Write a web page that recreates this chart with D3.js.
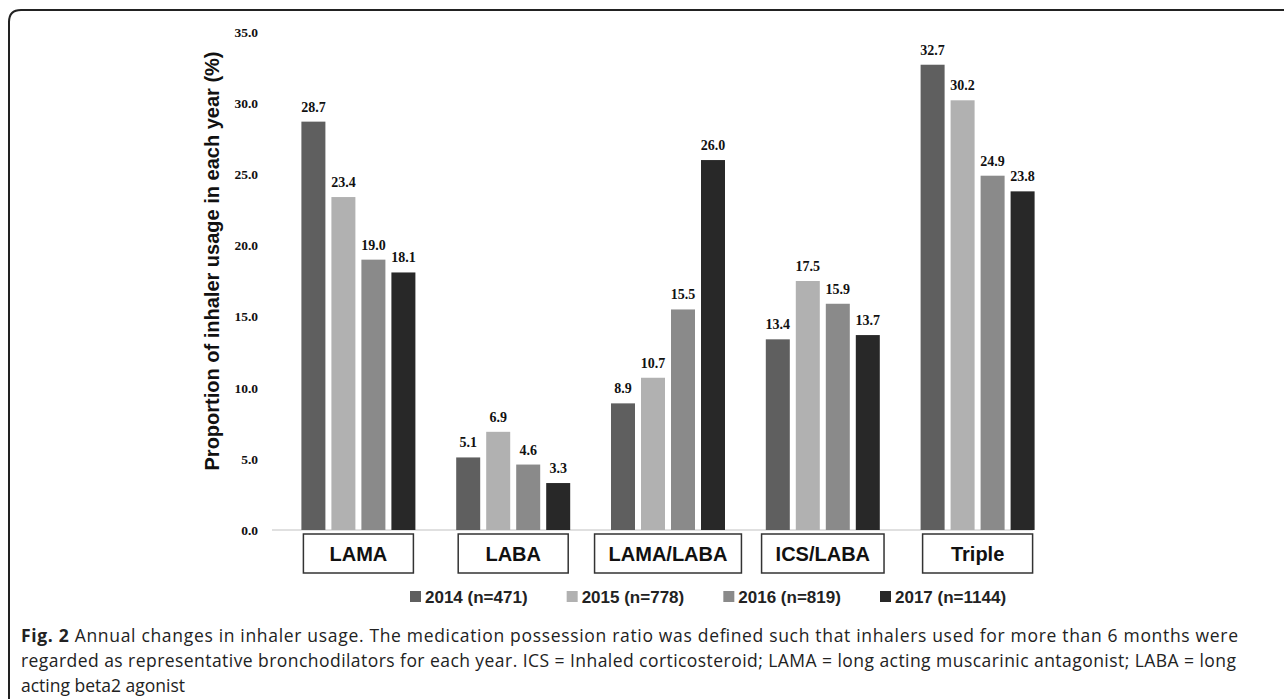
<!DOCTYPE html>
<html>
<head>
<meta charset="utf-8">
<script src="https://cdn.jsdelivr.net/npm/d3@7"></script>
<style>
  body { margin: 0; background: #fff; }
  svg { display: block; }
</style>
</head>
<body>
<div id="viz"></div>
<script>
// chart data
const categories = ["LAMA", "LABA", "LAMA/LABA", "ICS/LABA", "Triple"];
const years = ["2014", "2015", "2016", "2017"];
const legendLabels = ["2014 (n=471)", "2015 (n=778)", "2016 (n=819)", "2017 (n=1144)"];
const values2014 = [28.7, 5.1, 8.9, 13.4, 32.7];
const values2015 = [23.4, 6.9, 10.7, 17.5, 30.2];
const values2016 = [19.0, 4.6, 15.5, 15.9, 24.9];
const values2017 = [18.1, 3.3, 26.0, 13.7, 23.8];
const yTicks = [0, 5, 10, 15, 20, 25, 30, 35];
const captionLines = [
  ["Fig. 2", " Annual changes in inhaler usage. The medication possession ratio was defined such that inhalers used for more than 6 months were"],
  ["", "regarded as representative bronchodilators for each year. ICS = Inhaled corticosteroid; LAMA = long acting muscarinic antagonist; LABA = long"],
  ["", "acting beta2 agonist"]
];

const seriesValues = [values2014, values2015, values2016, values2017];
const colors = ["#5f5f5f", "#b1b1b1", "#8a8a8a", "#282828"];

const width = 1284, height = 699;

const svg = d3.select("#viz")
  .append("svg")
  .attr("width", width)
  .attr("height", height);

// frame: top and left edges with rounded corner
svg.append("path")
  .attr("d", "M9,699 L9,22 Q9,10 21,10 L1284,10")
  .attr("fill", "none")
  .attr("stroke", "#222")
  .attr("stroke-width", 2);

const x = d3.scaleBand().domain(categories).range([281, 1055]);
const xi = d3.scaleBand().domain(years).range([-57, 57]).paddingInner(0.2);
const y = d3.scaleLinear().domain([0, 35]).range([530, 32]);

// y axis labels
const yAxis = svg.append("g")
  .attr("transform", "translate(258,0)")
  .call(d3.axisLeft(y).tickValues(yTicks).tickFormat(d3.format(".1f")).tickSize(0).tickPadding(0));
yAxis.select(".domain").remove();
yAxis.selectAll("text")
  .attr("font-family", "Liberation Serif, Times New Roman, serif")
  .attr("font-weight", "bold")
  .attr("font-size", 13.5)
  .attr("fill", "#111");

svg.append("text")
  .attr("transform", "translate(219,261) rotate(-90)")
  .attr("text-anchor", "middle")
  .attr("font-family", "Liberation Sans, Arial, sans-serif")
  .attr("font-weight", "bold")
  .attr("font-size", 20)
  .attr("fill", "#111")
  .text("Proportion of inhaler usage in each year (%)");

// baseline
svg.append("line")
  .attr("x1", 272).attr("x2", 1033)
  .attr("y1", y(0)).attr("y2", y(0))
  .attr("stroke", "#d6d6d6")
  .attr("stroke-width", 1.5);

// bars
const groups = svg.selectAll("g.group")
  .data(categories)
  .enter().append("g")
  .attr("class", "group")
  .attr("transform", d => `translate(${x(d) + x.bandwidth() / 2},0)`);

years.forEach((yr, k) => {
  groups.append("rect")
    .attr("x", xi(yr))
    .attr("y", (d, i) => y(seriesValues[k][i]))
    .attr("width", xi.bandwidth())
    .attr("height", (d, i) => y(0) - y(seriesValues[k][i]))
    .attr("fill", colors[k]);

  groups.append("text")
    .attr("x", xi(yr) + xi.bandwidth() / 2)
    .attr("y", (d, i) => y(seriesValues[k][i]) - 10)
    .attr("text-anchor", "middle")
    .attr("font-family", "Liberation Serif, Times New Roman, serif")
    .attr("font-weight", "bold")
    .attr("font-size", 14)
    .attr("fill", "#111")
    .text((d, i) => seriesValues[k][i].toFixed(1));
});

// category label boxes
groups.each(function(d) {
  const g = d3.select(this);
  const t = g.append("text")
    .attr("x", 0)
    .attr("y", 561)
    .attr("text-anchor", "middle")
    .attr("font-family", "Liberation Sans, Arial, sans-serif")
    .attr("font-weight", "bold")
    .attr("font-size", 20)
    .attr("fill", "#111")
    .text(d);
  const w = Math.max(110, t.node().getComputedTextLength() + 28);
  g.insert("rect", "text")
    .attr("x", -w / 2)
    .attr("y", 534)
    .attr("width", w)
    .attr("height", 39)
    .attr("fill", "#fff")
    .attr("stroke", "#333")
    .attr("stroke-width", 1.5);
});

// legend
const legendX = d3.scalePoint().domain(legendLabels).range([410, 880]);
const legend = svg.selectAll("g.legend")
  .data(legendLabels)
  .enter().append("g")
  .attr("class", "legend")
  .attr("transform", d => `translate(${legendX(d)},597)`);
legend.append("rect")
  .attr("x", 0).attr("y", -6)
  .attr("width", 11).attr("height", 11)
  .attr("fill", (d, i) => colors[i]);
legend.append("text")
  .attr("x", 15).attr("y", 6)
  .attr("font-family", "Liberation Sans, Arial, sans-serif")
  .attr("font-weight", "bold")
  .attr("font-size", 17)
  .attr("fill", "#222")
  .text(d => d);

// caption
const cap = svg.selectAll("text.caption")
  .data(captionLines)
  .enter().append("text")
  .attr("class", "caption")
  .attr("x", 21)
  .attr("y", (d, i) => 642 + i * 25)
  .attr("font-family", "Open Sans, sans-serif")
  .attr("font-size", 17.5)
  .attr("fill", "#222");
cap.append("tspan").attr("font-weight", "bold").text(d => d[0]);
cap.append("tspan").text(d => d[1]);
cap.filter((d, i) => i < 2)
  .attr("textLength", (d, i) => i === 0 ? 1217 : 1215)
  .attr("lengthAdjust", "spacing");
</script>
</body>
</html>
